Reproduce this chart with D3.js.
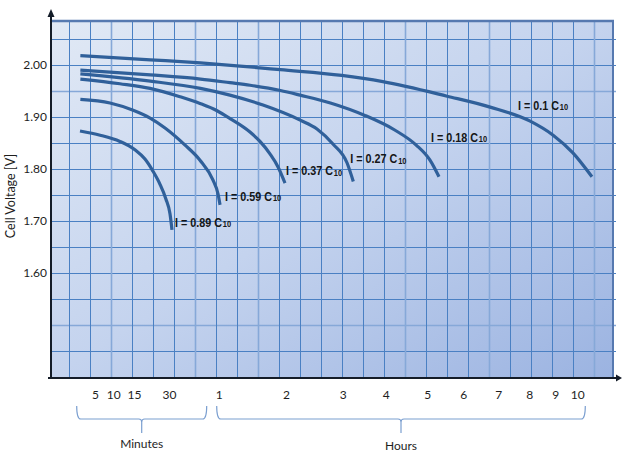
<!DOCTYPE html>
<meta charset="utf-8">
<script src="https://d3js.org/d3.v7.min.js"></script>
<style>
  body { margin: 0; background: #fff; }
  text { font-family: Lato, "Liberation Sans", sans-serif; fill: #1e1e1e; }
  .tick text { font-size: 12px; }
  .curve-label { font-family: "Liberation Sans", Arial, sans-serif; font-weight: bold; font-size: 13px; fill: #161616; }
  .curve-sub { font-family: "Liberation Sans", Arial, sans-serif; font-weight: bold; font-size: 9px; fill: #161616; }
</style>
<div id="chart"></div>
<script>

// ---- data: discharge time (minutes) vs cell voltage (V) ----
var tickMinutes = [5, 10, 15, 30, 60, 120, 180, 240, 300, 360, 420, 480, 540, 600];
var tickLabels  = ["5", "10", "15", "30", "1", "2", "3", "4", "5", "6", "7", "8", "9", "10"];
var yTicks = [2.00, 1.90, 1.80, 1.70, 1.60];
var groupLabels = ["Minutes", "Hours"];

var seriesNames = ["0.89", "0.59", "0.37", "0.27", "0.18", "0.1"];

var time089 = [0.9, 6.4, 11.6, 15.4, 19.7, 23.1, 26.1, 28.7, 30.6, 31.8];
var volt089 = [1.873, 1.865, 1.853, 1.837, 1.819, 1.796, 1.771, 1.742, 1.714, 1.683];

var time059 = [1, 9.1, 14.8, 21.9, 28.3, 39.7, 48.7, 56.5, 59.6, 61.2];
var volt059 = [1.934, 1.927, 1.913, 1.898, 1.879, 1.846, 1.817, 1.779, 1.752, 1.731];

var time037 = [1, 11.6, 21.9, 36.6, 48.7, 59, 70.1, 87.9, 96.8, 105.7, 112.9, 119.1];
var volt037 = [1.973, 1.964, 1.955, 1.939, 1.926, 1.912, 1.897, 1.871, 1.853, 1.829, 1.804, 1.773];

var time027 = [1, 22, 49, 70, 99.5, 135, 152.8, 169.7, 186, 194.8];
var volt027 = [1.983, 1.969, 1.955, 1.942, 1.923, 1.894, 1.877, 1.848, 1.812, 1.776];

var time018 = [1, 22, 49, 70, 88, 115, 135, 167, 211, 253, 284, 304.5, 319.5];
var volt018 = [1.990, 1.981, 1.973, 1.966, 1.961, 1.951, 1.942, 1.927, 1.903, 1.875, 1.846, 1.817, 1.785];

var time010 = [1, 22, 49, 79, 115, 179, 236, 333, 406, 482, 535, 588, 640];
var volt010 = [2.018, 2.010, 2.004, 1.998, 1.991, 1.980, 1.968, 1.940, 1.919, 1.892, 1.865, 1.831, 1.785];

var seriesTimes = [time089, time059, time037, time027, time018, time010];
var seriesVolts = [volt089, volt059, volt037, volt027, volt018, volt010];

// ---- layout ----
var width = 623, height = 452;
var plot = {left: 51, right: 613, top: 21, bottom: 378};
// where each tick sits along the (non uniform) time axis
var axisStops = [95, 113.3, 134, 169, 218.7, 286, 342.7, 385.7, 427.3, 463.3, 498.3, 529.3, 555.3, 577.3];
// label offset from the end of each curve
var labelOffsets = [[3, -3], [5, -4], [1, -8], [-3, -18], [-8, -35], [-74, -67]];
var labelSqueeze = 0.83;

var svg = d3.select("#chart")
  .append("svg")
    .attr("width", width)
    .attr("height", height);

var x = d3.scaleLinear().domain(tickMinutes).range(axisStops);
var y = d3.scaleLinear().domain([1.40, 2.00]).range([377, 65]);

// background gradient
var defs = svg.append("defs");
var grad = defs.append("linearGradient")
    .attr("id", "bg")
    .attr("x1", 0).attr("y1", 0).attr("x2", 1).attr("y2", 1);
grad.append("stop").attr("offset", "0%").attr("stop-color", "#e1e9f5");
grad.append("stop").attr("offset", "50%").attr("stop-color", "#c4d3ee");
grad.append("stop").attr("offset", "100%").attr("stop-color", "#9bb3e1");

svg.append("rect")
    .attr("x", plot.left)
    .attr("y", plot.top)
    .attr("width", plot.right - plot.left)
    .attr("height", plot.bottom - plot.top)
    .attr("fill", "url(#bg)");

// grid
var grid = svg.append("g");
var yGrid = d3.range(1.40, 2.06, 0.05);
grid.selectAll("line.h")
  .data(yGrid).enter()
  .append("line")
    .attr("x1", plot.left)
    .attr("x2", plot.right + 3)
    .attr("y1", function(d) { return Math.round(y(d)) + 0.5; })
    .attr("y2", function(d) { return Math.round(y(d)) + 0.5; })
    .attr("stroke", function(d, i) { return (i == 2 || i == 11) ? "#86a8d8" : "#4a80c3"; })
    .attr("stroke-width", function(d, i) { return (i == 2 || i == 11) ? 1.6 : 1; });

var gx = d3.scaleLinear().domain([0, 25]).range([69, 594]);
var lightCols = [2, 6, 9, 16, 20, 25];
grid.selectAll("line.v")
  .data(d3.range(26)).enter()
  .append("line")
    .attr("x1", function(d) { return Math.round(gx(d)) + 0.5; })
    .attr("x2", function(d) { return Math.round(gx(d)) + 0.5; })
    .attr("y1", plot.top)
    .attr("y2", plot.bottom)
    .attr("stroke", function(d) { return lightCols.indexOf(d) >= 0 ? "#86a8d8" : "#4a80c3"; })
    .attr("stroke-width", function(d) { return lightCols.indexOf(d) >= 0 ? 1.6 : 1; });

// frame top and right
svg.append("line")
    .attr("x1", plot.left).attr("x2", plot.right + 1)
    .attr("y1", plot.top).attr("y2", plot.top)
    .attr("stroke", "#5679b0").attr("stroke-width", 2.5);
svg.append("line")
    .attr("x1", plot.right).attr("x2", plot.right)
    .attr("y1", plot.top).attr("y2", plot.bottom)
    .attr("stroke", "#5679b0").attr("stroke-width", 2);

// curves
var line = d3.line()
    .x(function(d) { return x(d[0]); })
    .y(function(d) { return y(d[1]); })
    .curve(d3.curveMonotoneX);

var curves = seriesNames.map(function(name, i) {
  return seriesTimes[i].map(function(t, j) { return [t, seriesVolts[i][j]]; });
});

svg.append("g")
  .selectAll("path")
  .data(curves).enter()
  .append("path")
    .attr("d", line)
    .attr("fill", "none")
    .attr("stroke", "#30609a")
    .attr("stroke-width", 3.2);

// curve labels: "I = .. C" plus a small "10", squeezed sideways
var labelGroups = svg.append("g")
  .selectAll("g")
  .data(seriesNames).enter()
  .append("g")
    .attr("transform", function(d, i) {
      var e = curves[i][curves[i].length - 1];
      return "translate(" + (x(e[0]) + labelOffsets[i][0]) + "," + (y(e[1]) + labelOffsets[i][1]) + ") scale(" + labelSqueeze + ",1)";
    });

labelGroups.each(function(d) {
  var g = d3.select(this);
  var main = g.append("text")
      .attr("class", "curve-label")
      .text("I = " + d + " C");
  var w = main.node().getComputedTextLength();
  g.append("text")
      .attr("class", "curve-sub")
      .attr("x", w + 1)
      .attr("y", 0.5)
      .text("10");
});

// axes
var yAxis = svg.append("g")
    .attr("transform", "translate(" + plot.left + ",0)")
    .call(d3.axisLeft(y).tickValues(yTicks).tickFormat(d3.format(".2f")).tickSize(0).tickPadding(4));
yAxis.select(".domain").remove();

var xAxis = svg.append("g")
    .attr("transform", "translate(0," + plot.bottom + ")")
    .call(d3.axisBottom(x).tickValues(tickMinutes).tickFormat(function(d, i) { return tickLabels[i]; }).tickSize(0).tickPadding(12));
xAxis.select(".domain").remove();

svg.selectAll(".tick text").attr("fill", "#1e1e1e");

svg.append("line")
    .attr("x1", plot.left).attr("x2", plot.left)
    .attr("y1", 15).attr("y2", plot.bottom + 1)
    .attr("stroke", "#141c28").attr("stroke-width", 2);
svg.append("path")
    .attr("d", "M" + plot.left + ",9L" + (plot.left - 3.5) + ",17L" + (plot.left + 3.5) + ",17Z")
    .attr("fill", "#141c28");

svg.append("line")
    .attr("x1", plot.left - 3).attr("x2", 618)
    .attr("y1", plot.bottom).attr("y2", plot.bottom)
    .attr("stroke", "#141c28").attr("stroke-width", 2);
svg.append("path")
    .attr("d", "M622," + plot.bottom + "L616," + (plot.bottom - 3.5) + "L616," + (plot.bottom + 3.5) + "Z")
    .attr("fill", "#141c28");

svg.append("text")
    .attr("transform", "translate(15,196) rotate(-90)")
    .attr("text-anchor", "middle")
    .style("font-size", "12.5px")
    .text("Cell Voltage [V]");

// braces under the time axis
function brace(x0, x1) {
  var cx = (x0 + x1) / 2, top = 406, mid = 419, tip = 433;
  return "M" + x0 + "," + top +
    "Q" + x0 + "," + mid + " " + (x0 + 4) + "," + mid +
    "L" + (cx - 3) + "," + mid +
    "Q" + cx + "," + mid + " " + cx + "," + (mid + 3) +
    "L" + cx + "," + tip +
    "M" + cx + "," + (mid + 3) +
    "Q" + cx + "," + mid + " " + (cx + 3) + "," + mid +
    "L" + (x1 - 4) + "," + mid +
    "Q" + x1 + "," + mid + " " + x1 + "," + top;
}

var braceSpans = [[x(0), x(60) - 12], [x(60) - 2, x(600) + 8]];
svg.append("g")
  .selectAll("path")
  .data(braceSpans).enter()
  .append("path")
    .attr("d", function(d) { return brace(d[0], d[1]); })
    .attr("fill", "none")
    .attr("stroke", "#7b9fd0")
    .attr("stroke-width", 1.2);

svg.append("g")
  .selectAll("text")
  .data(groupLabels).enter()
  .append("text")
    .attr("x", function(d, i) { return (braceSpans[i][0] + braceSpans[i][1]) / 2; })
    .attr("y", function(d, i) { return i == 0 ? 448 : 450; })
    .attr("text-anchor", "middle")
    .style("font-size", "12px")
    .text(function(d) { return d; });

</script>
